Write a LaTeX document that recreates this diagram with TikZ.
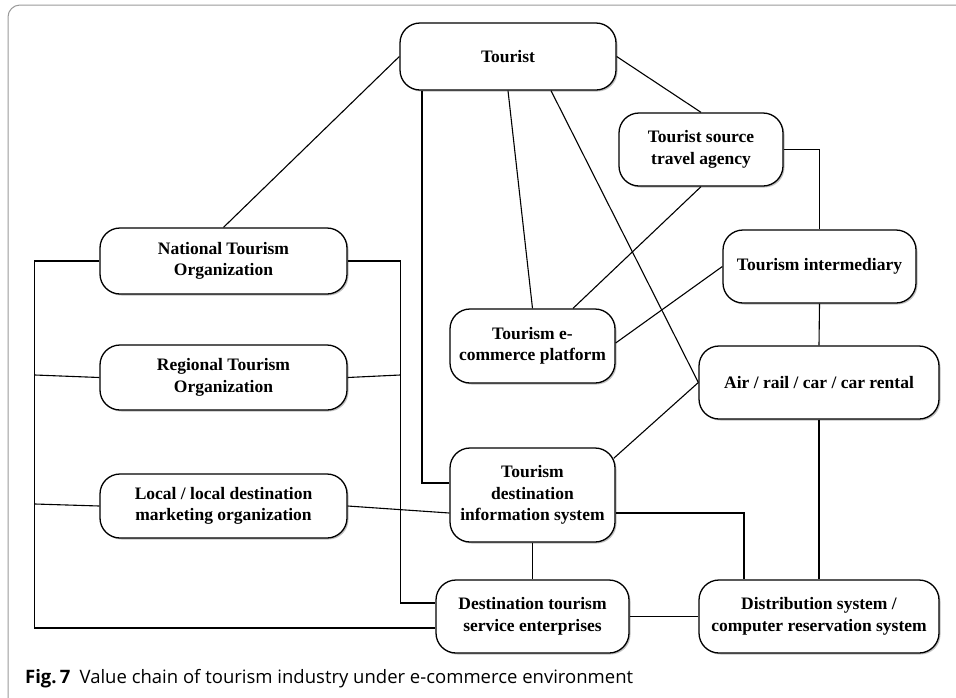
\documentclass[tikz,border=0pt]{standalone}
\usepackage{fontspec}
\setmainfont{Liberation Serif}
\newfontfamily\capfont{Open Sans}
\usetikzlibrary{shadows}
\begin{document}
\begin{tikzpicture}[x=1pt,y=-1pt,
  box/.style={draw=black, line width=1.3pt, rounded corners=20pt, fill=white,
    align=center, inner sep=2pt,
    font=\fontsize{17.5}{21.5}\selectfont\bfseries,
    drop shadow={shadow xshift=1.5pt, shadow yshift=-1.5pt, opacity=0.25, fill=black}},
  link/.style={draw=black, line width=1.1pt}]
\useasboundingbox (0,0) rectangle (956,697);

% outer frame
\begin{scope}
  \clip (0,0) rectangle (956,697);
  \draw[gray!80, line width=1pt, rounded corners=12pt] (8,5) rectangle (980,715);
\end{scope}

% boxes
\node[box, minimum width=216pt, minimum height=67pt] (tourist)  at (508,56.5)   {Tourist};
\node[box, minimum width=247pt, minimum height=66pt] (national) at (223.5,261)  {National Tourism\\Organization};
\node[box, minimum width=247pt, minimum height=65pt] (regional) at (223.5,377.5){Regional Tourism\\Organization};
\node[box, minimum width=247pt, minimum height=64pt] (local)    at (223.5,506)  {Local / local destination\\marketing organization};
\node[box, minimum width=164pt, minimum height=73pt] (source)   at (701,149.5)  {Tourist source\\travel agency};
\node[box, minimum width=193pt, minimum height=73pt] (inter)    at (819.5,266.5){Tourism intermediary};
\node[box, minimum width=165pt, minimum height=74pt] (ecom)     at (532.5,346)  {Tourism e-\\commerce platform};
\node[box, minimum width=240pt, minimum height=73pt] (air)      at (819,382.5)  {Air / rail / car / car rental};
\node[box, minimum width=165pt, minimum height=94pt] (tdis)     at (532.5,495)  {Tourism\\destination\\information system};
\node[box, minimum width=193pt, minimum height=73pt] (dest)     at (532.5,616.5){Destination tourism\\service enterprises};
\node[box, minimum width=240pt, minimum height=73pt] (distr)    at (819,616.5)  {Distribution system /\\computer reservation system};

% free ends on the two vertical buses
\coordinate (rjoin) at (400,375);
\coordinate (ljoin2) at (35,375);
\coordinate (ljoin3) at (35,504);

% connectors
\draw[link] (tourist.west) -- (national.north);
\draw[link] (tourist.east) -- (source.north);
\draw[link] ([xshift=-86pt]tourist.south) |- ([yshift=12pt]tdis.west);
\draw[link] (tourist.south) -- (ecom.north);
\draw[link] ([xshift=43pt]tourist.south) -- (air.west);
\draw[link] (source.east) -| (inter.north);
\draw[link] (source.south) -- ([xshift=40.5pt]ecom.north);
\draw[link] (inter.west) -- ([yshift=3pt]ecom.east);
\draw[link] (inter.south) -- (air.north);
\draw[link] (air.west) -- ([xshift=-2pt,yshift=-11pt]tdis.north east);
\draw[link] (air.south) -- (distr.north);
\draw[link] ([yshift=-18pt]tdis.east) -| ([xshift=-75pt]distr.north);
\draw[link] (tdis.south) -- (dest.north);
\draw[link] (dest.east) -- (distr.west);
\draw[link] (national.east) -- ++(53,0) |- ([yshift=13.5pt]dest.west);
\draw[link] (regional.east) -- (rjoin);
\draw[link] (local.east) -- ([yshift=-18pt]tdis.west);
\draw[link] (national.west) -- ++(-65,0) |- ([yshift=-11.5pt]dest.west);
\draw[link] (regional.west) -- (ljoin2);
\draw[link] (local.west) -- (ljoin3);

% caption
\node[anchor=base west, inner sep=0pt, font=\capfont\fontsize{18.5}{22}\selectfont] (caption) at (25,683)
  {\textbf{Fig.\,7}\hspace{0.5em}Value chain of tourism industry under e-commerce environment};
\end{tikzpicture}
\end{document}
